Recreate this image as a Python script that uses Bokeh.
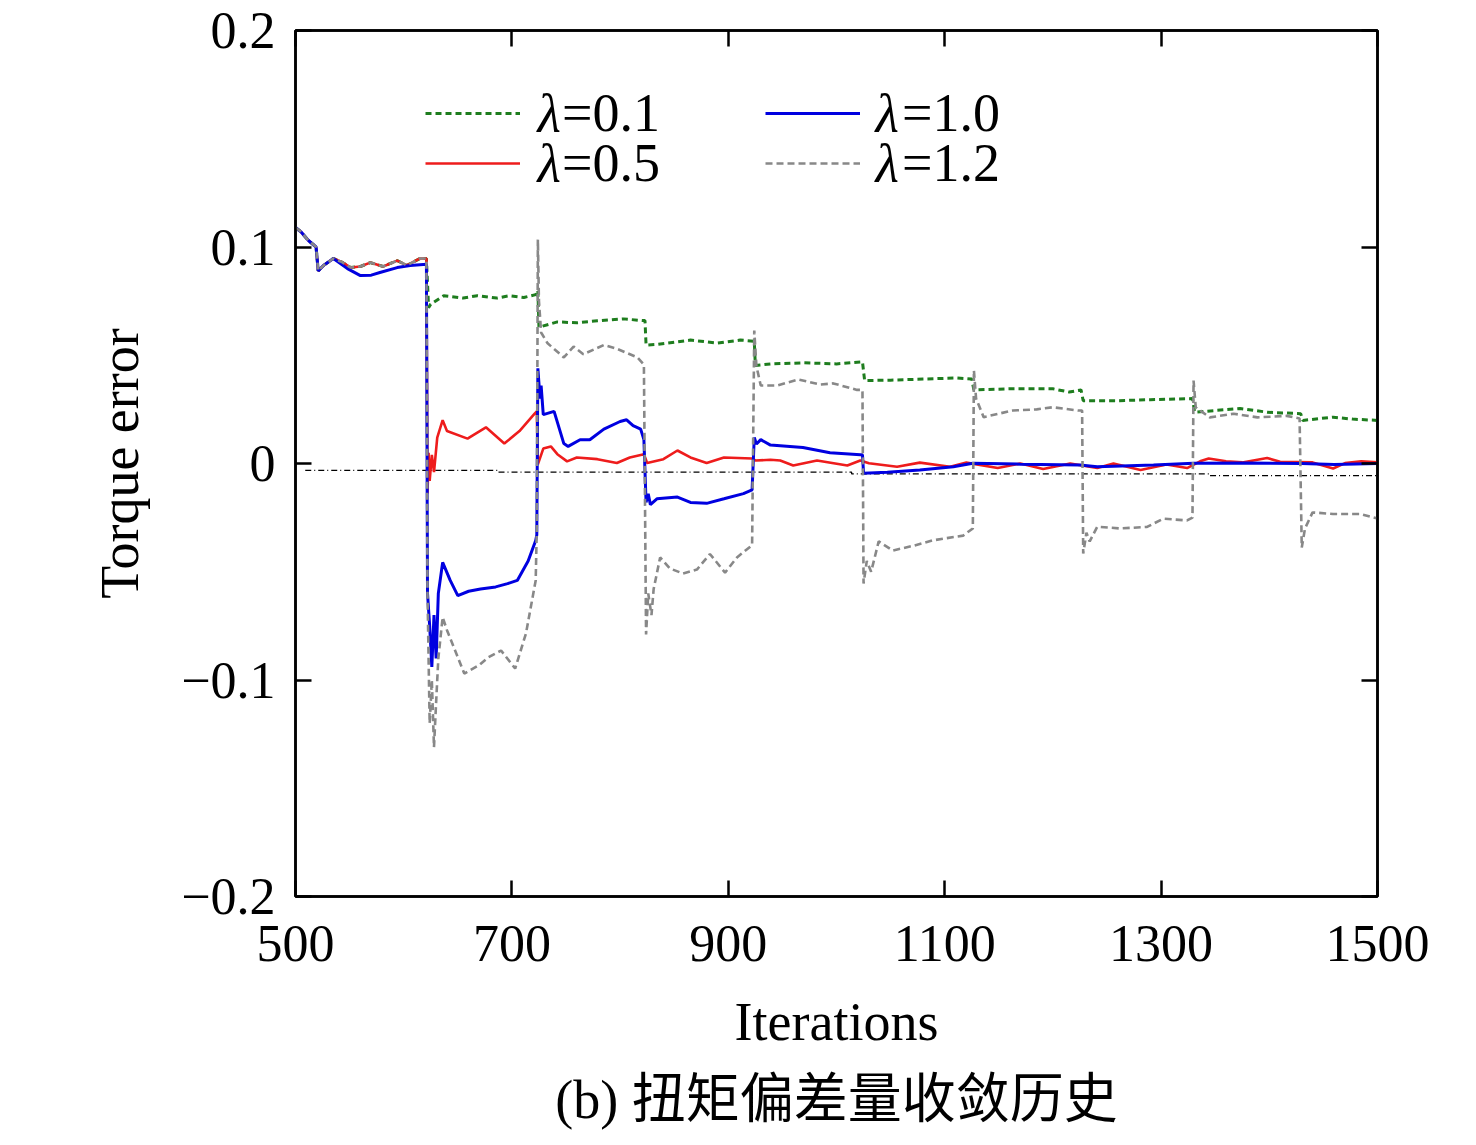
from bokeh.plotting import figure
from bokeh.models import (Range1d, FixedTicker, LinearAxis, Legend, LegendItem,
                          Label, Title, CustomJSTickFormatter)
from bokeh.embed import file_html
from bokeh.resources import INLINE

# ---------------- data ----------------
x_ticks = [500, 700, 900, 1100, 1300, 1500]
y_ticks = [-0.2, -0.1, 0.0, 0.1, 0.2]

# common start (lambda = 0.1 / 0.5 / 1.2 overlap here)
start_x = [500, 505, 512, 519, 521, 526, 535, 543, 551, 560, 569, 581, 594, 603, 615, 621]
start_y = [0.109, 0.107, 0.103, 0.100, 0.089, 0.0915, 0.0947, 0.093, 0.0905, 0.091,
           0.0928, 0.091, 0.0937, 0.0915, 0.0947, 0.0947]

# lambda = 0.1 (green)
g_x = start_x + [623, 625, 637, 655, 668, 686, 698, 711, 722, 724, 725, 742, 760, 779, 803,
                 821, 823, 824, 834, 865, 890, 911, 924, 925, 940, 970, 1000, 1024, 1026,
                 1050, 1080, 1110, 1125, 1127, 1160, 1200, 1215, 1226, 1228, 1260, 1290,
                 1329, 1331, 1373, 1398, 1429, 1431, 1459, 1477, 1500]
g_y = start_y + [0.072, 0.0736, 0.0775, 0.0764, 0.0775, 0.0764, 0.0775, 0.0767, 0.078, 0.080,
                 0.063, 0.0654, 0.065, 0.0659, 0.0668, 0.066, 0.066, 0.0547, 0.055, 0.057,
                 0.0556, 0.057, 0.0565, 0.0453, 0.046, 0.0465, 0.046, 0.047, 0.0383, 0.0385,
                 0.039, 0.0395, 0.039, 0.034, 0.0345, 0.0345, 0.033, 0.034, 0.029, 0.029,
                 0.0295, 0.030, 0.0237, 0.0254, 0.0237, 0.023, 0.0199, 0.0214, 0.0205, 0.0199]

# lambda = 0.5 (red)
r_x = start_x + [622, 623, 624, 626, 628, 631, 636, 640, 659, 676, 693, 707, 721, 723, 724,
                 729, 736, 742, 751, 760, 779, 797, 809, 822, 825, 840, 853, 865, 880, 896,
                 922, 925, 939, 948, 960, 982, 1010, 1022, 1030, 1056, 1077, 1105, 1120,
                 1149, 1170, 1191, 1216, 1241, 1256, 1281, 1305, 1324, 1336, 1344, 1360,
                 1375, 1398, 1410, 1440, 1459, 1470, 1485, 1500]
r_y = start_y + [-0.014, 0.005, -0.008, 0.004, -0.004, 0.012, 0.020, 0.015, 0.0115, 0.0167,
                 0.0092, 0.015, 0.023, 0.024, -0.0004, 0.0069, 0.0079, 0.0043, 0.001, 0.0028,
                 0.002, 0.0002, 0.0028, 0.0043, 0.0002, 0.002, 0.006, 0.0028, 0.0002, 0.0028,
                 0.0023, 0.0014, 0.0017, 0.0014, -0.0009, 0.0014, -0.0009, 0.0014, 0.0001,
                 -0.0015, 0.0004, -0.0015, 0.0004, -0.0021, 0.0, -0.0025, 0.0, -0.0021, 0.0,
                 -0.003, -0.0005, -0.0021, 0.001, 0.0023, 0.001, 0.0005, 0.0025, 0.0008,
                 0.0005, -0.0023, 0.0002, 0.001, 0.0005]

# lambda = 1.0 (blue)
b_x = [500, 505, 512, 519, 521, 526, 535, 548, 560, 570, 578, 594, 606, 621,
       622, 624, 626, 628, 630, 632, 636, 643, 650, 660, 671, 685, 696, 705, 715, 722, 723,
       724, 726, 727, 729, 739, 748, 752, 763, 772, 785, 800, 806, 812, 819, 822,
       824, 826, 828, 834, 853, 865, 880, 896, 914, 922,
       924, 926, 930, 939, 969, 994, 1022, 1024,
       1025, 1047, 1077, 1108, 1126, 1170, 1225, 1241, 1293, 1330, 1380, 1430, 1460, 1500]
b_y = [0.109, 0.107, 0.103, 0.100, 0.089, 0.0915, 0.0947, 0.090, 0.0868, 0.087, 0.0882,
       0.0905, 0.0915, 0.092,
       -0.06, -0.075, -0.094, -0.07, -0.09, -0.06, -0.0457, -0.054, -0.061, -0.059, -0.058,
       -0.057, -0.0555, -0.054, -0.045, -0.0356, -0.033,
       0.044, 0.030, 0.036, 0.0226, 0.0241, 0.0092, 0.0079, 0.011, 0.011, 0.0159, 0.0194,
       0.0202, 0.0175, 0.0159, 0.011,
       -0.0179, -0.014, -0.019, -0.0163, -0.0155, -0.018, -0.0184, -0.0163, -0.0139, -0.0122,
       0.012, 0.009, 0.011, 0.0085, 0.0074, 0.005, 0.004, 0.004,
       -0.0045, -0.004, -0.003, -0.0015, 0.0001, -0.0003, -0.0007, -0.0015, -0.0007, 0.0001,
       0.0002, 0.0, -0.0005, 0.0]

# lambda = 1.2 (gray)
k_x = start_x + [622, 624, 626, 628, 630, 632, 636, 640, 656, 670, 678, 690, 703, 713, 722, 723,
                 724, 725, 727, 733, 748, 757, 766, 785, 797, 816, 822,
                 824, 826, 829, 831, 837, 846, 858, 871, 883, 897, 908, 922,
                 924, 926, 930, 945, 965, 985, 997, 1019, 1024,
                 1025, 1028, 1032, 1039, 1052, 1071, 1089, 1117, 1126,
                 1127, 1129, 1136, 1163, 1185, 1200, 1223, 1227,
                 1228, 1231, 1234, 1241, 1262, 1287, 1302, 1324, 1329,
                 1330, 1332, 1336, 1345, 1367, 1389, 1416, 1428,
                 1430, 1433, 1440, 1459, 1484, 1500]
k_y = start_y + [-0.06, -0.12, -0.1, -0.131, -0.11, -0.09, -0.071, -0.077, -0.097, -0.093,
                 -0.0896, -0.0864, -0.0947, -0.0785, -0.054, -0.03,
                 0.1035, 0.075, 0.0605, 0.0555, 0.049, 0.054, 0.0505, 0.0547, 0.053, 0.049, 0.0457,
                 -0.079, -0.06, -0.07, -0.058, -0.0434, -0.0485, -0.0508, -0.049, -0.0418,
                 -0.0504, -0.0434, -0.0377,
                 0.0614, 0.045, 0.036, 0.036, 0.0388, 0.0365, 0.037, 0.034, 0.034,
                 -0.0554, -0.045, -0.05, -0.036, -0.0402, -0.038, -0.0355, -0.0333, -0.030,
                 0.043, 0.03, 0.0214, 0.0245, 0.025, 0.026, 0.0245, 0.0245,
                 -0.0416, -0.032, -0.036, -0.0292, -0.030, -0.0293, -0.0255, -0.0263, -0.025,
                 0.0383, 0.026, 0.0245, 0.0213, 0.023, 0.0213, 0.022, 0.0208,
                 -0.0388, -0.03, -0.0226, -0.0233, -0.0233, -0.0254]

# thin black dash-dot reference line just below zero
ref_x = [509, 687, 687, 1014, 1014, 1345, 1345, 1500]
ref_y = [-0.0032, -0.0032, -0.004, -0.004, -0.0048, -0.0048, -0.0056, -0.0056]

series_labels = ["=0.1", "=0.5", "=1.0", "=1.2"]
x_label = "Iterations"
y_label = "Torque error"
caption = "(b) 扭矩偏差量收敛历史"

# ---------------- figure ----------------
SERIF = "Liberation Serif"
p = figure(width=1467, height=1145, output_backend="svg", toolbar_location=None,
           x_range=Range1d(500, 1500), y_range=Range1d(-0.2, 0.2),
           min_border_left=295, min_border_top=30, min_border_right=90, min_border_bottom=249)
p.background_fill_color = "white"
p.border_fill_color = "white"
p.outline_line_color = "black"
p.outline_line_width = 2.5
p.xgrid.visible = False
p.ygrid.visible = False

ytick_fmt = CustomJSTickFormatter(code="""
  if (Math.abs(tick) < 1e-9) return "0";
  const s = Math.abs(tick).toFixed(1);
  return tick < 0 ? "\\u2212" + s : s;
""")
blank_fmt = CustomJSTickFormatter(code="return '';")

def style_axis(ax, ticks, labels=True):
    ax.ticker = FixedTicker(ticks=ticks)
    ax.axis_line_color = "black"
    ax.axis_line_width = 2.5
    ax.major_tick_line_color = "black"
    ax.major_tick_line_width = 2.5
    ax.major_tick_in = 16
    ax.major_tick_out = 0
    ax.minor_tick_line_color = None
    ax.major_label_text_font = SERIF
    ax.major_label_text_color = "black"
    ax.major_label_text_font_size = "52px"
    if not labels:
        ax.formatter = blank_fmt
        ax.major_label_standoff = 0

style_axis(p.xaxis[0], x_ticks)
style_axis(p.yaxis[0], y_ticks)
p.yaxis[0].formatter = ytick_fmt
p.xaxis[0].major_label_standoff = 29
p.yaxis[0].major_label_standoff = 20

for ax, lab in ((p.xaxis[0], x_label), (p.yaxis[0], y_label)):
    ax.axis_label = lab
    ax.axis_label_text_font = SERIF
    ax.axis_label_text_font_size = "54px"
    ax.axis_label_text_font_style = "normal"
    ax.axis_label_text_color = "black"
p.xaxis[0].axis_label_standoff = 28
p.yaxis[0].axis_label_standoff = 28

top_ax = LinearAxis()
style_axis(top_ax, x_ticks, labels=False)
p.add_layout(top_ax, "above")
right_ax = LinearAxis()
style_axis(right_ax, y_ticks, labels=False)
p.add_layout(right_ax, "right")

# ---------------- lines ----------------
p.line(ref_x, ref_y, line_color="black", line_width=1.2, line_dash="6 3 1 3")
rg = p.line(g_x, g_y, line_color="#1e7d1e", line_width=3, line_dash="6 4")
rr = p.line(r_x, r_y, line_color="#ee1c1c", line_width=2.6)
rb = p.line(b_x, b_y, line_color="#0000e0", line_width=3)
rk = p.line(k_x, k_y, line_color="#888888", line_width=2.6, line_dash="7 4")

# ---------------- legend (one item per box, positioned in screen units) ----------------
def make_legend(label, renderer, loc):
    return Legend(items=[LegendItem(label=label, renderers=[renderer])], location=loc,
                  orientation="vertical", glyph_width=95, glyph_height=62,
                  label_height=62, label_width=10, label_standoff=42, spacing=0,
                  padding=0, margin=0, border_line_alpha=0, background_fill_alpha=0,
                  label_text_font=SERIF, label_text_font_size="54px",
                  label_text_color="black")

ROW1, ROW2 = 752, 702          # legend bottoms (screen px from frame bottom)
COL1, COL2 = 130, 470          # legend lefts (screen px from frame left)
p.add_layout(make_legend(series_labels[0], rg, (COL1, ROW1)))
p.add_layout(make_legend(series_labels[1], rr, (COL1, ROW2)))
p.add_layout(make_legend(series_labels[2], rb, (COL2, ROW1)))
p.add_layout(make_legend(series_labels[3], rk, (COL2, ROW2)))

for lx in (COL1 + 112, COL2 + 110):
    for ly in (ROW1 + 31, ROW2 + 31):
        p.add_layout(Label(x=lx, y=ly, x_units="screen", y_units="screen", text="λ",
                           text_font=SERIF, text_font_style="italic",
                           text_font_size="54px", text_baseline="middle",
                           text_color="black"))

cap = Title(text=caption, align="center", text_font=SERIF + ", Noto Sans CJK SC",
            text_font_size="54px", text_font_style="normal", text_color="black",
            standoff=26)
p.add_layout(cap, "below")

open("out.html", "w").write(file_html(p, INLINE))
